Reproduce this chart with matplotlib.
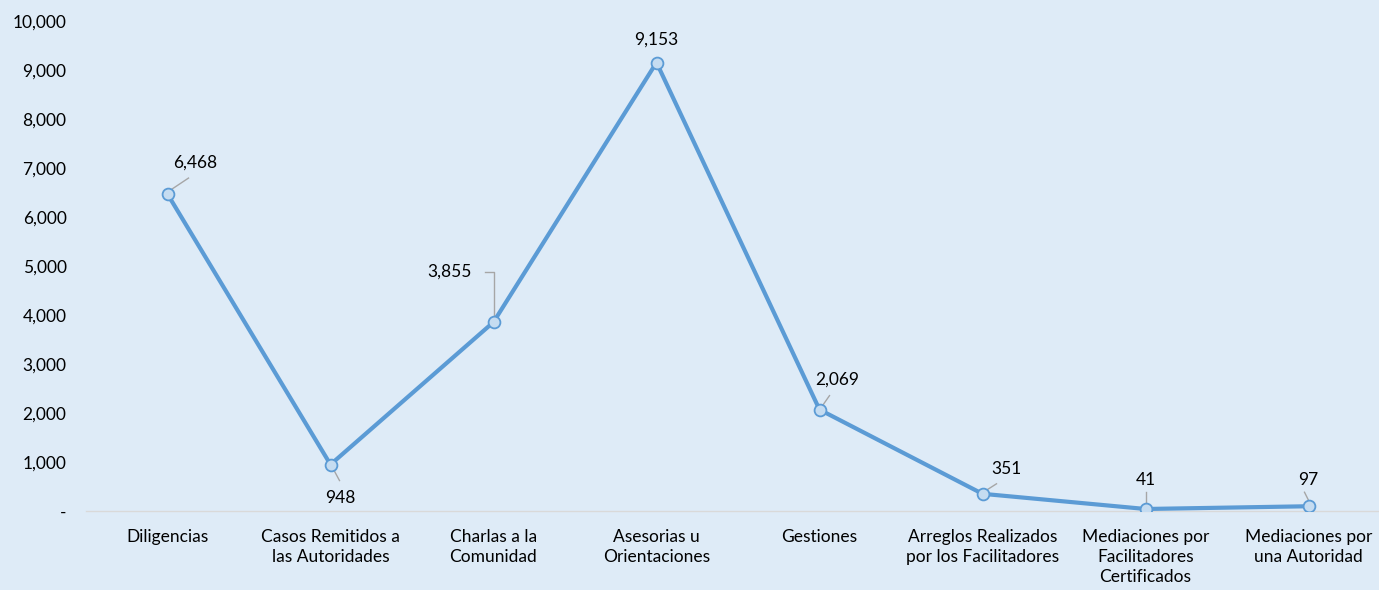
import matplotlib
matplotlib.use("Agg")
import matplotlib.pyplot as plt

categories = ["Diligencias", "Casos Remitidos a\nlas Autoridades", "Charlas a la\nComunidad",
              "Asesorias u\nOrientaciones", "Gestiones", "Arreglos Realizados\npor los Facilitadores",
              "Mediaciones por\nFacilitadores\nCertificados", "Mediaciones por\nuna Autoridad"]
values = [6468, 948, 3855, 9153, 2069, 351, 41, 97]
yticks = [0, 1000, 2000, 3000, 4000, 5000, 6000, 7000, 8000, 9000, 10000]
ytick_labels = ["-", "1,000", "2,000", "3,000", "4,000", "5,000", "6,000", "7,000", "8,000", "9,000", "10,000"]

# label offsets (pixels) and leader line paths (pixels relative to point)
label_offsets = [(28, 31), (10, -33), (-44, 50), (0, 23), (18, 30), (24, 25), (0, 29), (0, 26)]
leaders = [[(3, 4), (21, 16)], [(2, -3), (9, -16)], [(0, 4), (0, 50), (-9, 50)], None,
           [(3, 4), (10, 14)], [(3, 3), (14, 10)], [(0, 4), (0, 17)], [(1, 4), (-4, 14)]]

FS = 12.5
FAM = ['Lato', 'DejaVu Sans']
bg = "#DEEBF7"
fig = plt.figure(figsize=(13.79, 5.9), dpi=100, facecolor=bg)
W, H = 1379, 590
left, right, top, bottom = 86, 1390, 21, 511
ax = fig.add_axes([left / W, 1 - bottom / H, (right - left) / W, (bottom - top) / H])
ax.set_facecolor(bg)

x = list(range(len(categories)))
ax.plot(x, values, color="#5B9BD5", lw=3.0, marker="o", markersize=8.5,
        markerfacecolor="#C5DCF1", markeredgecolor="#5B9BD5", markeredgewidth=1.3,
        solid_joinstyle="round", zorder=3)

ax.set_xlim(-0.5, len(categories) - 0.5)
ax.set_ylim(0, 10000)
ax.set_yticks(yticks)
ax.set_yticklabels(ytick_labels, fontsize=FS, color="#000000", family=FAM)
ax.set_xticks(x)
ax.set_xticklabels(categories, fontsize=FS, color="#000000", linespacing=1.3, family=FAM)
ax.tick_params(axis="both", length=0)
ax.tick_params(axis="y", pad=14)
ax.tick_params(axis="x", pad=13)
for s in ["left", "right", "top"]:
    ax.spines[s].set_visible(False)
ax.spines["bottom"].set_color("#D9D9D9")
ax.spines["bottom"].set_linewidth(1.0)

for xi, v, off, ld in zip(x, values, label_offsets, leaders):
    ax.annotate(f"{v:,}", (xi, v), xytext=off, textcoords="offset pixels",
                ha="center", va="center", fontsize=FS, color="#000000",
                family=FAM, zorder=5)
    if ld:
        disp = ax.transData.transform((xi, v))
        pts = [ax.transData.inverted().transform((disp[0] + dx, disp[1] + dy)) for dx, dy in ld]
        ax.plot([p[0] for p in pts], [p[1] for p in pts], color="#A6A6A6", lw=1.0, zorder=2,
                clip_on=False)

fig.savefig("out.png", dpi=100, facecolor=bg)
